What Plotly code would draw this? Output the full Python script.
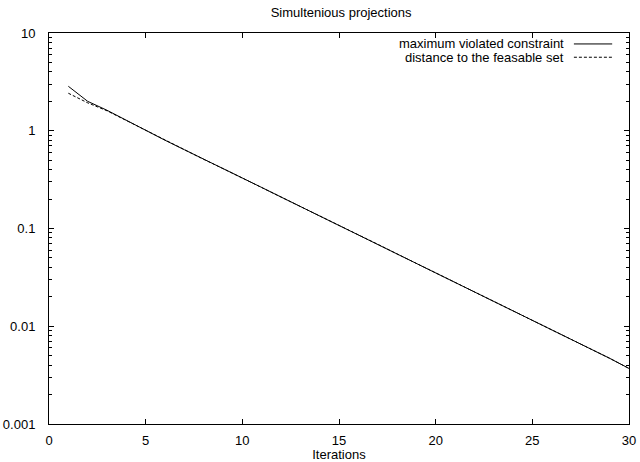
import plotly.graph_objects as go

iterations = list(range(1, 31))
max_violated = [2.85, 2.0, 1.62, 1.28, 1.0, 0.80, 0.64, 0.51, 0.41, 0.33,
                0.263, 0.21, 0.168, 0.135, 0.108, 0.0865, 0.069, 0.055, 0.044, 0.0352,
                0.0282, 0.0226, 0.018, 0.0145, 0.0116, 0.0093, 0.0074, 0.0059, 0.0047, 0.0037]
dist_feasible = [2.42, 1.93, 1.6, 1.27, 1.0, 0.80, 0.64, 0.51, 0.41, 0.33,
                 0.263, 0.21, 0.168, 0.135, 0.108, 0.0865, 0.069, 0.055, 0.044, 0.0352,
                 0.0282, 0.0226, 0.018, 0.0145, 0.0116, 0.0093, 0.0074, 0.0059, 0.0047, 0.0037]
series_names = ["maximum violated constraint", "distance to the feasable set"]
series_dash = ["solid", "3px,2px"]
xtick_vals = [0, 5, 10, 15, 20, 25, 30]
ytick_vals = [0.001, 0.01, 0.1, 1, 10]
ytick_text = ["0.001", "0.01", "0.1", "1", "10"]

FONT = "Liberation Sans, Arial, Helvetica, sans-serif"
FS = 13

fig = go.Figure()
for name, ys, dash in zip(series_names, [max_violated, dist_feasible], series_dash):
    fig.add_trace(go.Scatter(x=iterations, y=ys, mode="lines", name=name,
                             line=dict(color="black", width=1, dash=dash),
                             showlegend=False))

# gnuplot-style legend: right-aligned text with sample line to the right
for i, (name, dash) in enumerate(zip(series_names, series_dash)):
    yp = 0.972 - i * 0.034
    fig.add_annotation(x=0.888, y=yp, xref="paper", yref="paper", text=name,
                       showarrow=False, xanchor="right", yanchor="middle",
                       xshift=2, font=dict(family=FONT, size=FS, color="black"))
    fig.add_shape(type="line", xref="paper", yref="paper", x0=0.905, x1=0.971,
                  y0=yp, y1=yp, line=dict(color="black", width=1, dash=dash))

axis_common = dict(showline=True, linecolor="black", linewidth=1, mirror="allticks",
                   ticks="inside", ticklen=5, tickcolor="black", tickwidth=1,
                   showgrid=False, zeroline=False, automargin=False,
                   tickfont=dict(family=FONT, size=FS, color="black"))

fig.update_layout(
    width=640, height=462,
    margin=dict(l=49, r=11, t=33, b=38),
    paper_bgcolor="white", plot_bgcolor="white",
    title=dict(text="Simultenious projections", x=0.533, xanchor="center",
               y=0.974, yanchor="middle", automargin=False,
               font=dict(family=FONT, size=FS, color="black")),
    xaxis=dict(range=[0, 30], tickvals=xtick_vals, ticklabelstandoff=4,
               title=dict(text="Iterations", standoff=5,
                          font=dict(family=FONT, size=FS, color="black")),
               **axis_common),
    yaxis=dict(type="log", range=[-3, 1], tickvals=ytick_vals, ticktext=ytick_text,
               ticklabelstandoff=10,
               minor=dict(ticks="inside", ticklen=3, tickcolor="black",
                          tickvals=[m * 10 ** e for e in range(-3, 1) for m in range(2, 10)]),
               **axis_common),
)

fig.write_html("out.html")
